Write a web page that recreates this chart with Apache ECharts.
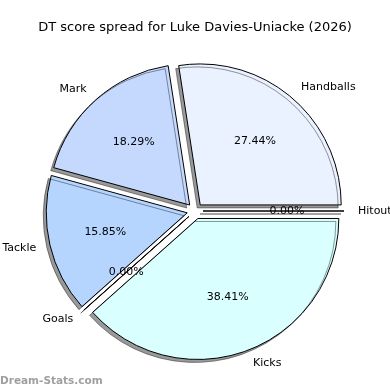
<!DOCTYPE html>
<html><head><meta charset="utf-8">
<script src="https://cdn.jsdelivr.net/npm/echarts@6/dist/echarts.min.js"></script>
<style>html,body{margin:0;padding:0;background:#fff}#c{width:390px;height:390px}</style>
</head><body><div id="c"></div>
<script>
// Data (counter-clockwise from 3 o'clock)
const categories = ['Hitout', 'Handballs', 'Mark', 'Tackle', 'Goals', 'Kicks'];
const values = [0, 45, 30, 26, 0, 63];
const colors = ['#ECF2FF', '#EAF1FF', '#C5D9FF', '#B5D5FF', '#D9FFFF', '#D9FFFF'];
const titleText = 'DT score spread for Luke Davies-Uniacke (2026)';
const watermark = 'Dream-Stats.com';

const FONT = 'DejaVu Sans';
const C = [195, 211];
const R = 141;
const OFF = 8;
const total = values.reduce((a, b) => a + b, 0);

const mainData = categories.map((n, i) => ({
  name: n, value: values[i], selected: true,
  itemStyle: { color: colors[i] }
}));
const labelData = categories.map((n, i) => ({
  name: n, value: values[i], selected: true
}));

const chart = echarts.init(document.getElementById('c'), null, { renderer: 'canvas' });
chart.setOption({
  animation: false,
  title: [
    { text: titleText, left: 'center', top: 16,
      textStyle: { fontFamily: FONT, fontSize: 13, fontWeight: 'normal', color: '#000' } },
    { text: watermark, left: -5, top: 371,
      textStyle: { fontFamily: FONT, fontSize: 10.5, fontWeight: 'bold', color: '#A0A0A0' } }
  ],
  series: [
    {
      type: 'pie', center: C, radius: R,
      startAngle: 0, clockwise: false,
      selectedMode: 'multiple', selectedOffset: OFF,
      avoidLabelOverlap: false, minAngle: 0,
      silent: true,
      itemStyle: {
        borderColor: '#000', borderWidth: 1,
        shadowColor: 'rgba(0,0,0,0.4)', shadowBlur: 0,
        shadowOffsetX: -3, shadowOffsetY: 3
      },
      label: {
        show: true, position: 'outside',
        formatter: '{b}', fontFamily: FONT, fontSize: 11, color: '#000',
        distanceToLabelLine: 0
      },
      labelLine: { show: false, length: 14, length2: 0 },
      emphasis: { disabled: true },
      data: mainData
    },
    {
      type: 'pie', center: C, radius: R * 1.15,
      startAngle: 0, clockwise: false,
      selectedMode: 'multiple', selectedOffset: OFF,
      avoidLabelOverlap: false, minAngle: 0,
      silent: true, z: 3,
      itemStyle: { color: 'rgba(0,0,0,0)', borderWidth: 0 },
      label: {
        show: true, position: 'inside',
        formatter: p => (p.value / total * 100).toFixed(2) + '%',
        fontFamily: FONT, fontSize: 11, color: '#000',
        textBorderWidth: 0
      },
      labelLine: { show: false },
      emphasis: { disabled: true },
      data: labelData
    }
  ]
});
</script></body></html>
